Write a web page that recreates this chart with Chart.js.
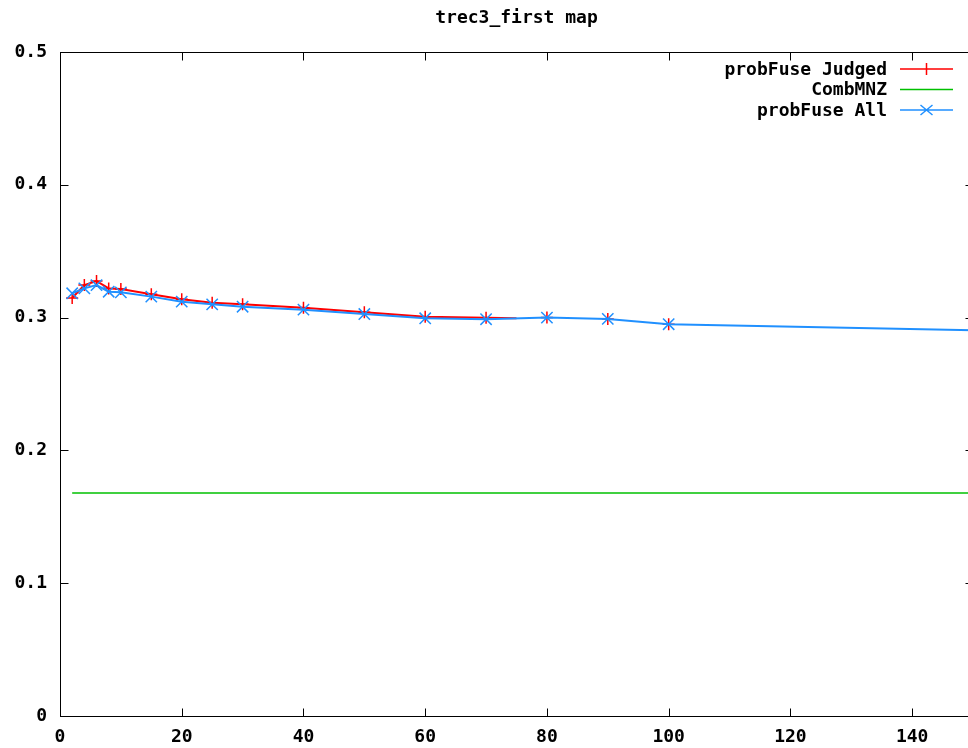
<!DOCTYPE html>
<html>
<head>
<meta charset="utf-8">
<script src="https://cdn.jsdelivr.net/npm/chart.js@4/dist/chart.umd.min.js"></script>
<style>
  html, body { margin: 0; padding: 0; background: #fff; overflow: hidden; }
  canvas { display: block; }
</style>
</head>
<body>
<canvas id="mapChart" width="1030" height="748"></canvas>
<script>
// values
const judgedX   = [2, 4, 6, 8, 10, 15, 20, 25, 30, 40, 50, 60, 70, 75, 80, 90, 100];
const judgedMap = [0.3148, 0.3245, 0.3275, 0.3220, 0.3215, 0.3175, 0.3138, 0.3112, 0.3100,
                   0.3075, 0.3040, 0.3007, 0.2999, 0.2996, 0.3000, 0.2990, 0.2950];
const judgedLineEnd = 75;   // red line stops here, points go on

const allX   = [2, 4, 6, 8, 10, 15, 20, 25, 30, 40, 50, 60, 70, 80, 90, 100, 150];
const allMap = [0.3183, 0.3220, 0.3245, 0.3195, 0.3190, 0.3158, 0.3120, 0.3100, 0.3082,
                0.3060, 0.3027, 0.2995, 0.2988, 0.3000, 0.2990, 0.2950, 0.2905];

const combX   = [2, 150];
const combMap = [0.168, 0.168];

const xTicks = [0, 20, 40, 60, 80, 100, 120, 140];
const yTicks = [0, 0.1, 0.2, 0.3, 0.4, 0.5];

const TITLE = 'trec3_first map';
const RED = '#ff0000', GREEN = '#00c000', BLUE = '#2090ff';
const FONT = { family: "'DejaVu Sans Mono', monospace", size: 18, weight: 'bold' };
const fontStr = `${FONT.weight} ${FONT.size}px ${FONT.family}`;

const toPoints = (xs, ys) => xs.map((x, i) => ({ x: x, y: ys[i] }));

// gnuplot style box with inward ticks, title over the plot box, key on the right
const gnuFrame = {
  id: 'gnuFrame',
  beforeDatasetsDraw(chart) {
    const { ctx, chartArea: a, scales } = chart;
    const L = Math.round(a.left) + 0.5, R = Math.round(a.right) + 0.5;
    const T = Math.round(a.top) + 0.5, B = Math.round(a.bottom) + 0.5;
    ctx.save();
    ctx.strokeStyle = '#000';
    ctx.lineWidth = 1;
    ctx.strokeRect(L, T, R - L, B - T);
    ctx.beginPath();
    xTicks.forEach(v => {
      const px = Math.round(scales.x.getPixelForValue(v)) + 0.5;
      ctx.moveTo(px, B); ctx.lineTo(px, B - 8);
      ctx.moveTo(px, T); ctx.lineTo(px, T + 8);
    });
    yTicks.forEach(v => {
      const py = Math.round(scales.y.getPixelForValue(v)) + 0.5;
      ctx.moveTo(L, py); ctx.lineTo(L + 8, py);
      ctx.moveTo(R, py); ctx.lineTo(R - 8, py);
    });
    ctx.stroke();
    ctx.restore();
  },
  afterDraw(chart) {
    const { ctx, chartArea: a } = chart;
    ctx.save();
    ctx.font = fontStr;
    ctx.fillStyle = '#000';
    ctx.textAlign = 'center';
    ctx.textBaseline = 'middle';
    ctx.fillText(TITLE, (a.left + a.right) / 2, a.top - 34);

    const items = [
      { label: chart.data.datasets[2].label, color: RED, mark: '+' },
      { label: chart.data.datasets[1].label, color: GREEN, mark: '' },
      { label: chart.data.datasets[0].label, color: BLUE, mark: 'x' }
    ];
    ctx.textAlign = 'right';
    items.forEach((it, i) => {
      const y = a.top + 17 + i * 20.5;
      ctx.fillStyle = '#000';
      ctx.fillText(it.label, a.right - 86, y + 1);
      const x0 = a.right - 73, x1 = a.right - 20, xm = (x0 + x1) / 2;
      ctx.strokeStyle = it.color;
      ctx.lineWidth = 1.5;
      ctx.beginPath();
      ctx.moveTo(x0, y); ctx.lineTo(x1, y);
      if (it.mark === '+') {
        ctx.moveTo(xm, y - 6); ctx.lineTo(xm, y + 6);
      } else if (it.mark === 'x') {
        ctx.moveTo(xm - 6, y - 5); ctx.lineTo(xm + 6, y + 5);
        ctx.moveTo(xm - 6, y + 5); ctx.lineTo(xm + 6, y - 5);
      }
      ctx.stroke();
    });
    ctx.restore();
  }
};

new Chart(document.getElementById('mapChart'), {
  type: 'line',
  data: {
    datasets: [
      {
        label: 'probFuse All',
        data: toPoints(allX, allMap),
        borderColor: BLUE,
        backgroundColor: BLUE,
        borderWidth: 2,
        pointStyle: 'crossRot',
        pointRadius: ctx => (allX[ctx.dataIndex] > 100 ? 0 : 8),
        pointBorderWidth: 1.5,
        pointBorderColor: BLUE,
        order: 0
      },
      {
        label: 'CombMNZ',
        data: toPoints(combX, combMap),
        borderColor: GREEN,
        borderWidth: 1.5,
        pointRadius: 0,
        order: 1
      },
      {
        label: 'probFuse Judged',
        data: toPoints(judgedX, judgedMap),
        borderColor: RED,
        backgroundColor: RED,
        borderWidth: 2,
        pointStyle: 'cross',
        pointRadius: ctx => (judgedX[ctx.dataIndex] === judgedLineEnd ? 0 : 6),
        pointBorderWidth: 1.5,
        pointBorderColor: RED,
        segment: {
          borderColor: ctx => (ctx.p0.parsed.x >= judgedLineEnd ? 'rgba(0,0,0,0)' : RED)
        },
        order: 2
      }
    ]
  },
  options: {
    responsive: false,
    animation: false,
    layout: { padding: { left: 0, right: 57, top: 52, bottom: 0 } },
    plugins: {
      legend: { display: false },
      tooltip: { enabled: false },
      title: { display: false }
    },
    scales: {
      x: {
        type: 'linear',
        min: 0,
        max: 150,
        afterBuildTicks: s => { s.ticks = xTicks.map(v => ({ value: v })); },
        afterFit: s => { s.height = 32; },
        grid: { display: false, drawTicks: false },
        border: { display: false },
        ticks: { color: '#000', font: FONT, padding: 11, maxRotation: 0 }
      },
      y: {
        min: 0,
        max: 0.5,
        afterBuildTicks: s => { s.ticks = yTicks.map(v => ({ value: v })); },
        afterFit: s => { s.width = 60; },
        grid: { display: false, drawTicks: false },
        border: { display: false },
        ticks: { color: '#000', font: FONT, padding: 13 }
      }
    }
  },
  plugins: [gnuFrame]
});
</script>
</body>
</html>
